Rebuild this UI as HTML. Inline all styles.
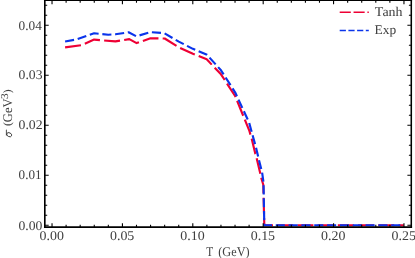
<!DOCTYPE html>
<html><head><meta charset="utf-8"><title>plot</title>
<style>html,body{margin:0;padding:0;background:#fff;}svg{display:block;}</style>
</head><body>
<svg width="415" height="258" viewBox="0 0 415 258">
<defs><filter id="gs" x="0" y="0" width="415" height="258" filterUnits="userSpaceOnUse" color-interpolation-filters="sRGB"><feOffset dx="0" dy="0"/></filter></defs>
<rect width="415" height="258" fill="#fff"/>
<path d="M65.10 47.40 L81.70 45.15 L94.10 39.60 L115.40 41.40 L129.30 39.10 L136.60 43.10 L150.50 38.30 L164.70 38.50 L178.80 47.40 L192.90 53.70 L206.70 59.30 L221.00 74.30 L235.10 96.00 L249.20 130.30 L251.70 138.80 L255.20 153.30 L256.60 157.90 L260.30 173.60 L261.50 178.80 L263.30 184.80 L264.30 225.22 L403.80 225.22" fill="none" stroke="#EE0034" stroke-width="2.15" stroke-dasharray="16 4.2" stroke-linejoin="round"/>
<path d="M65.10 41.45 L76.60 39.40 L94.10 33.30 L108.30 34.70 L115.40 34.30 L128.60 32.30 L136.40 36.30 L150.60 32.10 L164.30 33.20 L178.80 41.60 L192.90 48.85 L207.00 54.85 L221.00 70.30 L235.10 92.30 L249.20 122.80 L252.60 135.30 L256.00 147.50 L259.00 160.20 L262.10 172.40 L263.50 182.30 L264.30 225.22 L403.80 225.22" fill="none" stroke="#0A34EB" stroke-width="2.15" stroke-dasharray="9.1 3.73" stroke-linejoin="round"/>
<path d="M44.8 -0.45V227.95000000000002" stroke="#000" stroke-width="1.65" fill="none"/>
<path d="M411.28 -0.45V227.95000000000002" stroke="#000" stroke-width="1.55" fill="none"/>
<path d="M43.975 0.3H412.055" stroke="#000" stroke-width="1.5" fill="none"/>
<path d="M43.975 227.15H412.055" stroke="#000" stroke-width="1.6" fill="none"/>
<path d="M52.03 227.15V223.25 M52.03 0.3V4.20 M66.11 227.15V224.75 M66.11 0.3V2.70 M80.18 227.15V224.75 M80.18 0.3V2.70 M94.26 227.15V224.75 M94.26 0.3V2.70 M108.34 227.15V224.75 M108.34 0.3V2.70 M122.42 227.15V223.25 M122.42 0.3V4.20 M136.49 227.15V224.75 M136.49 0.3V2.70 M150.57 227.15V224.75 M150.57 0.3V2.70 M164.65 227.15V224.75 M164.65 0.3V2.70 M178.72 227.15V224.75 M178.72 0.3V2.70 M192.80 227.15V223.25 M192.80 0.3V4.20 M206.88 227.15V224.75 M206.88 0.3V2.70 M220.95 227.15V224.75 M220.95 0.3V2.70 M235.03 227.15V224.75 M235.03 0.3V2.70 M249.11 227.15V224.75 M249.11 0.3V2.70 M263.19 227.15V223.25 M263.19 0.3V4.20 M277.26 227.15V224.75 M277.26 0.3V2.70 M291.34 227.15V224.75 M291.34 0.3V2.70 M305.42 227.15V224.75 M305.42 0.3V2.70 M319.49 227.15V224.75 M319.49 0.3V2.70 M333.57 227.15V223.25 M333.57 0.3V4.20 M347.65 227.15V224.75 M347.65 0.3V2.70 M361.72 227.15V224.75 M361.72 0.3V2.70 M375.80 227.15V224.75 M375.80 0.3V2.70 M389.88 227.15V224.75 M389.88 0.3V2.70 M403.96 227.15V223.25 M403.96 0.3V4.20 M44.8 225.25H48.70 M411.28 225.25H407.38 M44.8 215.25H47.20 M411.28 215.25H408.88 M44.8 205.25H47.20 M411.28 205.25H408.88 M44.8 195.25H47.20 M411.28 195.25H408.88 M44.8 185.25H47.20 M411.28 185.25H408.88 M44.8 175.25H48.70 M411.28 175.25H407.38 M44.8 165.25H47.20 M411.28 165.25H408.88 M44.8 155.25H47.20 M411.28 155.25H408.88 M44.8 145.25H47.20 M411.28 145.25H408.88 M44.8 135.25H47.20 M411.28 135.25H408.88 M44.8 125.25H48.70 M411.28 125.25H407.38 M44.8 115.25H47.20 M411.28 115.25H408.88 M44.8 105.25H47.20 M411.28 105.25H408.88 M44.8 95.25H47.20 M411.28 95.25H408.88 M44.8 85.25H47.20 M411.28 85.25H408.88 M44.8 75.25H48.70 M411.28 75.25H407.38 M44.8 65.25H47.20 M411.28 65.25H408.88 M44.8 55.25H47.20 M411.28 55.25H408.88 M44.8 45.25H47.20 M411.28 45.25H408.88 M44.8 35.25H47.20 M411.28 35.25H408.88 M44.8 25.25H48.70 M411.28 25.25H407.38 M44.8 15.25H47.20 M411.28 15.25H408.88 M44.8 5.25H47.20 M411.28 5.25H408.88" stroke="#000" stroke-width="1.1" fill="none"/>
<path d="M339.7 12.15H368.8" fill="none" stroke="#EE0034" stroke-width="1.5" stroke-dasharray="11.1 2.75"/>
<path d="M339.7 30.4H368.8" fill="none" stroke="#0A34EB" stroke-width="1.5" stroke-dasharray="6.2 2.5"/>
<g font-family="'Liberation Serif', serif" fill="#404040" filter="url(#gs)" text-rendering="geometricPrecision"><text transform="translate(18.54 229.55) scale(1.0270 1)" font-size="13.3" >0.00</text>
<text transform="translate(18.56 179.20) scale(0.9886 1)" font-size="13.3" >0.01</text>
<text transform="translate(18.53 129.00) scale(1.0364 1)" font-size="13.3" >0.02</text>
<text transform="translate(18.54 79.30) scale(1.0292 1)" font-size="13.3" >0.03</text>
<text transform="translate(18.55 29.60) scale(1.0011 1)" font-size="13.3" >0.04</text>
<text transform="translate(39.56 240.05) scale(1.0472 1)" font-size="13.3" >0.00</text>
<text transform="translate(109.94 240.05) scale(1.0472 1)" font-size="13.3" >0.05</text>
<text transform="translate(180.33 240.05) scale(1.0472 1)" font-size="13.3" >0.10</text>
<text transform="translate(250.71 240.05) scale(1.0472 1)" font-size="13.3" >0.15</text>
<text transform="translate(321.10 240.05) scale(1.0472 1)" font-size="13.3" >0.20</text>
<text transform="translate(391.48 240.05) scale(1.0472 1)" font-size="13.3" >0.25</text>
<text transform="translate(374.84 15.60) scale(1.0500 1)" font-size="13.3" >Tanh</text>
<text transform="translate(374.57 33.95) scale(1.0098 1)" font-size="13.3" >Exp</text>
<text transform="translate(206.29 255.60) scale(0.8525 1)" font-size="13.3" >T</text>
<text transform="translate(218.22 255.60) scale(0.9252 1)" font-size="13.3" >(GeV)</text>
<text transform="translate(11.8 137.2) rotate(-90) translate(11.08 -0.35) scale(1.0435 1)" font-size="11.3" >(</text>
<text transform="translate(11.8 137.2) rotate(-90) translate(15.03 0.00) scale(0.9429 1)" font-size="13.3" >GeV</text>
<text transform="translate(11.8 137.2) rotate(-90) translate(38.16 -4.05) scale(1.0857 1)" font-size="10.5" >3</text>
<text transform="translate(11.8 137.2) rotate(-90) translate(43.91 -0.35) scale(1.0435 1)" font-size="11.3" >)</text>
<g transform="translate(11.8 137.2) rotate(-90)"><ellipse cx="2.5" cy="-2.6" rx="1.9" ry="2.6" transform="rotate(26 2.5 -2.6)" fill="none" stroke="#303030" stroke-width="0.85"/><rect x="1.7" y="-5.9" width="5.9" height="0.85" rx="0.3" fill="#303030"/></g></g>
</svg>
</body></html>
